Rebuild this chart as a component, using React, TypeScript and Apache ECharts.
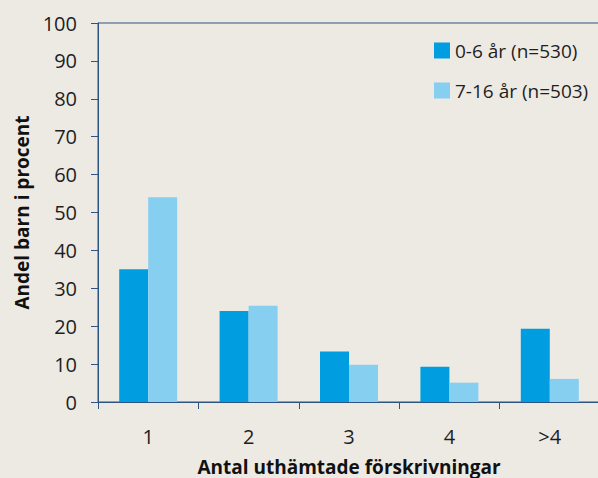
import React, { useEffect, useRef } from "react";
import * as echarts from "echarts";

const categories = ["1", "2", "3", "4", ">4"];
const seriesNames = ["0-6 år (n=530)", "7-16 år (n=503)"];
const young = [35, 24, 13.3, 9.3, 19.3];
const older = [54, 25.4, 9.8, 5.1, 6.1];
const yTicks = { min: 0, max: 100, interval: 10 };

const BG = "#EDEAE4";
const AXIS = "#2E5483";
const FONT = "'Open Sans', 'Noto Sans', sans-serif";

export default function App() {
  const ref = useRef<HTMLDivElement>(null);
  useEffect(() => {
    document.body.style.margin = "0";
    document.body.style.background = BG;
    const chart = echarts.init(ref.current!, null, { renderer: "svg" });
    chart.setOption({
      animation: false,
      backgroundColor: BG,
      textStyle: { fontFamily: FONT },
      grid: {
        left: 98,
        top: 23,
        width: 502,
        height: 379,
        outerBoundsMode: "none",
        containLabel: false,
        show: true,
        borderColor: AXIS,
        borderWidth: 1,
        backgroundColor: "transparent",
      },
      legend: {
        orient: "vertical",
        left: 429,
        top: 36,
        itemWidth: 16,
        itemHeight: 16,
        itemGap: 21,
        icon: "rect",
        textStyle: { fontSize: 19, color: "#1e1e1e", fontFamily: FONT },
        data: seriesNames,
      },
      xAxis: {
        type: "category",
        data: categories,
        axisLine: { lineStyle: { color: AXIS, width: 1 } },
        axisTick: { show: true, length: 7, lineStyle: { color: AXIS }, alignWithLabel: false },
        axisLabel: { fontSize: 20, color: "#1e1e1e", margin: 24, fontFamily: FONT },
        name: "Antal uthämtade förskrivningar",
        nameLocation: "middle",
        nameGap: 55,
        nameTextStyle: { fontSize: 19, fontWeight: "bold", color: "#111", fontFamily: FONT },
      },
      yAxis: {
        type: "value",
        min: yTicks.min,
        max: yTicks.max,
        interval: yTicks.interval,
        axisLine: { show: true, lineStyle: { color: AXIS, width: 1 } },
        axisTick: { show: true, length: 7, lineStyle: { color: AXIS } },
        splitLine: { show: false },
        axisLabel: { fontSize: 20, color: "#1e1e1e", margin: 21, fontFamily: FONT },
        name: "Andel barn i procent",
        nameLocation: "middle",
        nameGap: 66,
        nameTextStyle: { fontSize: 19, fontWeight: "bold", color: "#111", fontFamily: FONT },
      },
      series: [
        { name: seriesNames[0], type: "bar", data: young, barWidth: 29, barGap: "0%", itemStyle: { color: "#009EE0" } },
        { name: seriesNames[1], type: "bar", data: older, barWidth: 29, barGap: "0%", itemStyle: { color: "#86CFF0" } },
      ],
    });
    return () => chart.dispose();
  }, []);
  return <div ref={ref} style={{ width: 598, height: 478 }} />;
}
